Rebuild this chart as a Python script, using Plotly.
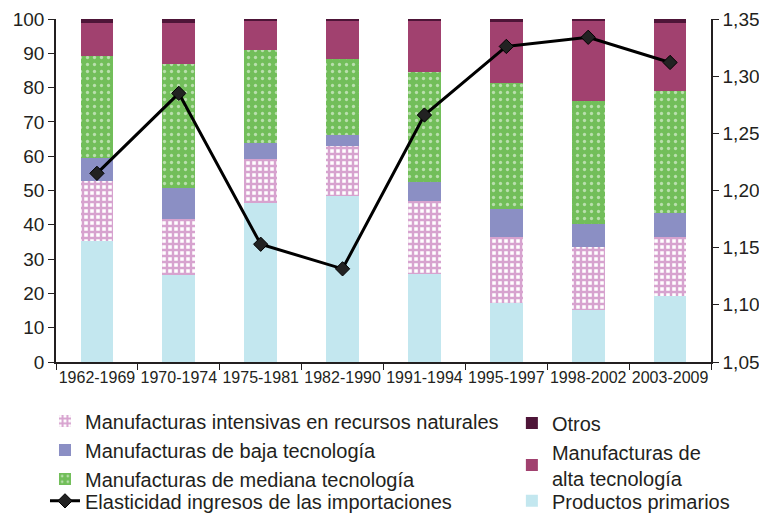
import plotly.graph_objects as go

periods = ["1962-1969", "1970-1974", "1975-1981", "1982-1990",
           "1991-1994", "1995-1997", "1998-2002", "2003-2009"]

primarios = [35.3, 25.4, 46.3, 48.3, 25.7, 17.1, 15.3, 19.2]
intensivas = [17.5, 16.2, 12.8, 14.6, 21.3, 19.4, 18.3, 17.3]
baja = [6.6, 9.0, 4.8, 3.4, 5.6, 8.1, 6.5, 7.0]
mediana = [29.8, 36.2, 27.1, 22.1, 31.9, 36.6, 36.1, 35.6]
alta = [9.6, 12.0, 8.7, 11.3, 15.2, 18.0, 23.3, 19.7]
otros = [1.2, 1.2, 0.3, 0.3, 0.3, 0.8, 0.5, 1.2]

elasticidad = [1.215, 1.285, 1.153, 1.1315, 1.266, 1.326, 1.334, 1.312]

left_ticks = list(range(0, 101, 10))
right_ticks = [1.05, 1.10, 1.15, 1.20, 1.25, 1.30, 1.35]

FONT = "Liberation Sans, Arial, sans-serif"
TXT = "#231f20"

fig = go.Figure()

W = 0.40
fig.add_trace(go.Bar(x=periods, y=primarios, name="Productos primarios",
                     marker=dict(color="#c3e7ef", line=dict(width=0)),
                     width=W, legend="legend4"))
fig.add_trace(go.Bar(x=periods, y=intensivas, name="Manufacturas intensivas en recursos naturales",
                     marker=dict(color="#b0489f", line=dict(width=0),
                                 pattern=dict(shape="+", fgcolor="#b0489f", bgcolor="white",
                                              size=6, solidity=0.65)),
                     width=W, legend="legend", legendrank=1))
fig.add_trace(go.Bar(x=periods, y=baja, name="Manufacturas de baja tecnología",
                     marker=dict(color="#8b8fc4", line=dict(width=0)),
                     width=W, legend="legend", legendrank=2))
fig.add_trace(go.Bar(x=periods, y=mediana, name="Manufacturas de mediana tecnología",
                     marker=dict(color="#72be5a", line=dict(width=0),
                                 pattern=dict(shape=".", fgcolor="white", bgcolor="#72be5a",
                                              size=7, solidity=0.17)),
                     width=W, legend="legend", legendrank=3))
fig.add_trace(go.Bar(x=periods, y=alta, name="Manufacturas de<br>alta tecnología",
                     marker=dict(color="#a1416f", line=dict(width=0)),
                     width=W, legend="legend2", legendrank=2))
fig.add_trace(go.Bar(x=periods, y=otros, name="Otros",
                     marker=dict(color="#4e1538", line=dict(width=0)),
                     width=W, legend="legend2", legendrank=1))

fig.add_trace(go.Scatter(x=periods, y=elasticidad, yaxis="y2",
                         name="Elasticidad ingresos de las importaciones",
                         mode="lines+markers",
                         line=dict(color="black", width=3),
                         marker=dict(symbol="diamond", size=11, color="#222222",
                                     line=dict(color="black", width=1)),
                         legend="legend3"))

leg_common = dict(xanchor="left", yanchor="top", traceorder="normal",
                  font=dict(size=20), itemwidth=30, tracegroupgap=0,
                  bgcolor="rgba(0,0,0,0)")

fig.update_layout(
    width=759, height=516,
    margin=dict(l=56, r=48, t=19, b=153.5, autoexpand=False),
    barmode="stack",
    bargap=0.6,
    plot_bgcolor="white", paper_bgcolor="white",
    separators=",.",
    font=dict(family=FONT, size=16, color=TXT),
    xaxis=dict(type="category", showline=True, linecolor=TXT, linewidth=1.5,
               ticks="outside", ticklen=6, tickcolor=TXT, tickson="boundaries",
               showgrid=False, tickfont=dict(size=16), tickangle=0),
    yaxis=dict(range=[0, 100], tickvals=left_ticks, showline=True, linecolor=TXT,
               linewidth=1.5, ticks="outside", ticklen=6, tickcolor=TXT,
               showgrid=False, zeroline=False, tickfont=dict(size=19)),
    yaxis2=dict(range=[1.05, 1.35], tickvals=right_ticks, tickformat=".2f",
                overlaying="y", side="right", showline=True, linecolor=TXT,
                linewidth=1.5, ticks="outside", ticklen=6, tickcolor=TXT,
                showgrid=False, zeroline=False, tickfont=dict(size=19)),
    legend=dict(x=-0.0168, y=-0.1150, **leg_common),
    legend3=dict(x=-0.0168, y=-0.348, **leg_common),
    legend2=dict(x=0.696, y=-0.1208, **leg_common),
    legend4=dict(x=0.696, y=-0.348, **leg_common),
)

fig.write_html("out.html")
